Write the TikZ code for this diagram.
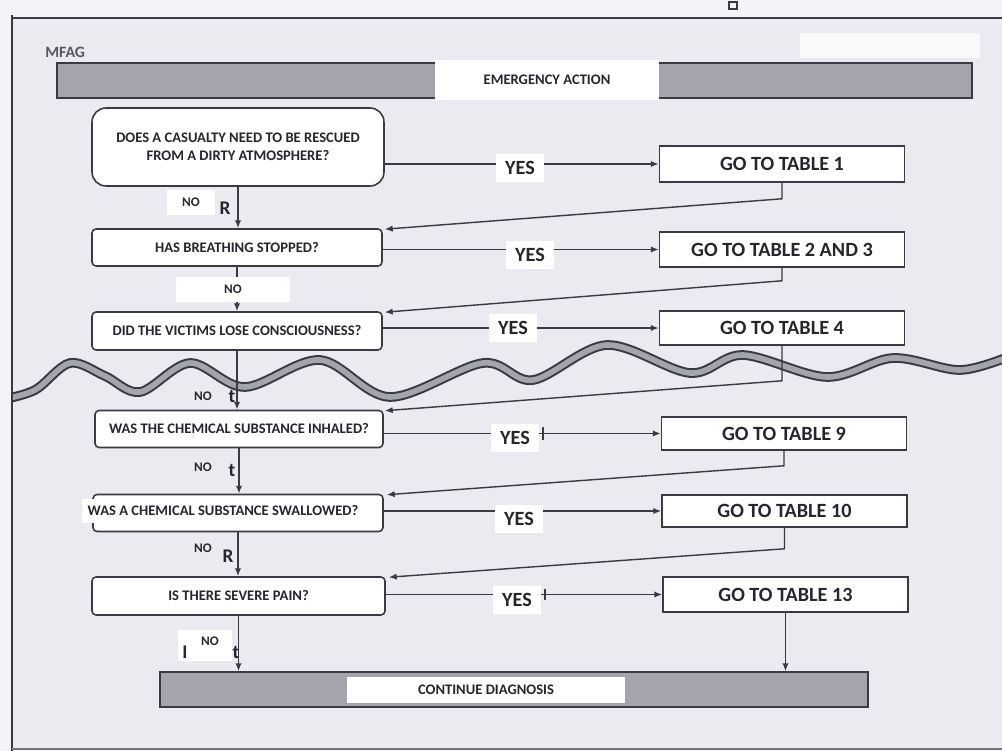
\documentclass[tikz,border=0pt]{standalone}
\usepackage{fontspec}
\setmainfont{Carlito}
\usetikzlibrary{arrows.meta,calc}
\definecolor{bg}{HTML}{EBEAF0}
\definecolor{outer}{HTML}{F3F4F8}
\definecolor{ink}{HTML}{3A3A42}
\definecolor{bar}{HTML}{A4A4AC}
\definecolor{txt}{HTML}{26262C}
\tikzset{
  qbox/.style={draw=ink, line width=0.9pt, fill=white, rounded corners=0.08cm, minimum width=5.8cm, minimum height=0.75cm, inner sep=0pt, font=\bfseries\fontsize{8.3}{10}\selectfont, text=txt, align=center},
  tbox/.style={draw=ink, line width=0.9pt, fill=white, minimum width=4.9cm, minimum height=0.7cm, inner sep=0pt, font=\bfseries\fontsize{11.5}{13}\selectfont, text=txt},
  yeslab/.style={fill=white, inner xsep=5pt, inner ysep=4pt, font=\bfseries\fontsize{11.5}{13}\selectfont, text=txt},
  nolab/.style={font=\bfseries\fontsize{7.5}{9}\selectfont, text=txt, inner sep=1pt},
  glyph/.style={font=\bfseries\fontsize{11}{12}\selectfont, text=txt, inner sep=0pt},
  conn/.style={draw=ink, line width=0.8pt},
  arr/.style={conn, -{Latex[length=4.5pt,width=3.6pt]}},
  barbox/.style={draw=ink, line width=0.9pt, fill=bar, minimum height=0.7cm, inner sep=0pt},
  barlab/.style={fill=white, inner sep=0pt, font=\bfseries\fontsize{8.3}{10}\selectfont, text=txt},
}
\begin{document}
\begin{tikzpicture}[x=0.02cm, y=-0.02cm]
\useasboundingbox (0,0) rectangle (1002,751);
\fill[outer] (0,0) rectangle (1002,751);
\fill[bg] (12,18) rectangle (1002,749);
% frame
\draw[ink, line width=1.6pt] (12,18) -- (1002,18);
\draw[ink, line width=1.2pt] (12,15) -- (12,751);
\draw[ink!70, line width=0.8pt] (12,749) -- (1002,749);
\draw[ink, line width=0.7pt] (729,2) rectangle (737,9);
\fill[white!70!bg] (800,33) rectangle (980,58);

% title
\node[font=\bfseries\fontsize{9}{10}\selectfont, text=ink!85, anchor=west, inner sep=0pt] (mfag) at (45,52) {MFAG};
\node[barbox, minimum width=18.3cm] (embar) at (514.5,80.5) {};
\node[barlab, minimum width=4.48cm, minimum height=0.8cm] (emlab) at (547,80) {EMERGENCY ACTION};

% wave band
\begin{scope}
\clip (13,300) rectangle (1002,450);
\draw[ink, line width=5.5pt] plot[smooth, tension=0.55] coordinates {(0,400) (35,390) (70,363) (105,376) (140,392) (190,363) (245,387) (320,360) (390,397) (483,363) (533,380) (607,345) (690,373) (743,355) (827,377) (893,358) (960,370) (1010,356)};
\draw[bar, line width=3.2pt] plot[smooth, tension=0.55] coordinates {(0,400) (35,390) (70,363) (105,376) (140,392) (190,363) (245,387) (320,360) (390,397) (483,363) (533,380) (607,345) (690,373) (743,355) (827,377) (893,358) (960,370) (1010,356)};
\end{scope}

% questions
\node[qbox, minimum width=5.84cm, minimum height=1.56cm, rounded corners=0.28cm] (q1) at (238,147) {DOES A CASUALTY NEED TO BE RESCUED\\FROM A DIRTY ATMOSPHERE?};
\node[qbox, minimum height=0.74cm] (q2) at (237,247.5) {HAS BREATHING STOPPED?};
\node[qbox, minimum height=0.76cm] (q3) at (237,331) {DID THE VICTIMS LOSE CONSCIOUSNESS?};
\node[qbox, minimum width=5.76cm, minimum height=0.74cm] (q4) at (239,429) {WAS THE CHEMICAL SUBSTANCE INHALED?};
\node[qbox, minimum height=0.74cm] (q5) at (238,513) {};
\node[fill=white, inner xsep=3pt, inner ysep=4pt, font=\bfseries\fontsize{8.3}{10}\selectfont, text=txt] (q5t) at (223,511) {WAS A CHEMICAL SUBSTANCE SWALLOWED?};
\node[qbox, minimum width=5.86cm, minimum height=0.76cm] (q6) at (238.5,596) {IS THERE SEVERE PAIN?};

% tables
\node[tbox, minimum height=0.72cm] (t1) at (782,164) {GO TO TABLE 1};
\node[tbox] (t2) at (782,249.5) {GO TO TABLE 2 AND 3};
\node[tbox, minimum height=0.68cm] (t4) at (782,328) {GO TO TABLE 4};
\node[tbox, minimum height=0.66cm] (t9) at (784,433.5) {GO TO TABLE 9};
\node[tbox, minimum height=0.64cm] (t10) at (784.5,511) {GO TO TABLE 10};
\node[tbox] (t13) at (785.5,594.5) {GO TO TABLE 13};

% continue bar
\node[barbox, minimum width=14.16cm] (cont) at (514,689.5) {};
\node[barlab, minimum width=5.56cm, minimum height=0.52cm] (contlab) at (486,690) {CONTINUE DIAGNOSIS};

% YES connectors
\draw[arr] (q1.east |- t1.west) -- (t1.west);
\draw[arr] (q2.east |- t2.west) -- (t2.west);
\draw[arr] (q3.east |- t4.west) -- (t4.west);
\draw[arr] (q4.east |- t9.west) -- (t9.west);
\draw[arr] (q5.east |- t10.west) -- (t10.west);
\draw[arr] (q6.east |- t13.west) -- (t13.west);
\node[yeslab] (y1) at (520,168) {YES};
\node[yeslab] (y2) at (530,255) {YES};
\node[yeslab] (y3) at (513,328) {YES};
\node[yeslab] (y4) at (515,438) {YES};
\node[yeslab] (y5) at (519,519) {YES};
\node[yeslab] (y6) at (517,600) {YES};
\draw[conn] (543,427) -- (543,440);
\draw[conn] (545,589) -- (545,600);

% return connectors from tables
\draw[arr] (t1.south) -- ++(0,16) -- ($(q2.north east)+(2,1)$);
\draw[arr] (t2.south) -- ++(0,13) -- ($(q3.north east)+(2,1)$);
\draw[arr] (t4.south) -- ++(0,35) -- ($(q4.north east)+(1,1)$);
\draw[arr] (t9.south) -- ++(0,15) -- ($(q5.north east)+(3,1)$);
\draw[arr] (t10.south) -- ++(0,21) -- ($(q6.north east)+(3,1)$);
\draw[arr] (t13.south) -- (t13.south |- cont.north);

% NO connectors
\draw[arr] (q1.south) -- (q1.south |- q2.north);
\draw[arr] (q2.south) -- (q2.south |- q3.north);
\draw[arr] (q3.south) -- (q3.south |- q4.north);
\draw[arr] (q4.south) -- (q4.south |- q5.north);
\draw[arr] (q5.south) -- (q5.south |- q6.north);
\draw[arr] (q6.south) -- (q6.south |- cont.north);

% NO labels
\node[nolab, fill=white, minimum width=0.96cm, minimum height=0.5cm] (n1) at (191,202) {NO};
\node[nolab, fill=white, minimum width=2.3cm, minimum height=0.5cm] (n2) at (233,289) {NO};
\node[nolab] (n3) at (203,396) {NO};
\node[nolab] (n4) at (203,467) {NO};
\node[nolab] (n5) at (203,548) {NO};
\node[nolab, fill=white, minimum width=1.1cm, minimum height=0.62cm] (n6) at (205,645) {};
\node[nolab] (n6t) at (210,641) {NO};

% stray glyphs
\node[glyph] (g1) at (225,208) {R};
\node[glyph] (g2) at (232,396) {t};
\node[glyph] (g3) at (232,470) {t};
\node[glyph] (g4) at (228,556) {R};
\node[glyph] (g5) at (185,652) {I};
\node[glyph] (g6) at (236,652) {t};
\end{tikzpicture}
\end{document}
